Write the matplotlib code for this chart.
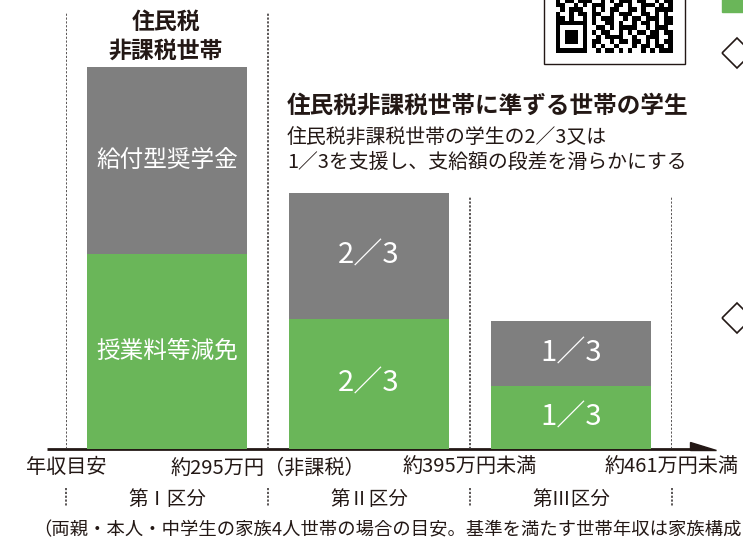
import numpy as np
import matplotlib.pyplot as plt
from matplotlib.patches import Polygon, Rectangle

plt.rcParams['font.family'] = ['Noto Sans CJK JP', 'DejaVu Sans']

# data (1.0 = full support of the first bracket)
categories = ['第Ⅰ区分', '第Ⅱ区分', '第Ⅲ区分']
income_labels = ['年収目安', '約295万円（非課税）', '約395万円未満', '約461万円未満']
tuition = [1.0, 0.667, 0.323]        # 授業料等減免
scholarship = [0.96, 0.646, 0.333]   # 給付型奨学金
tuition_text = ['授業料等減免', '2／3', '1／3']
scholarship_text = ['給付型奨学金', '2／3', '1／3']

green = '#6ab659'
gray = '#7f7f7f'
dark = '#231815'

W, H = 743, 544
fig = plt.figure(figsize=(W / 100, H / 100), dpi=100)

# overlay in pixel coords for the decorations
ov = fig.add_axes([0, 0, 1, 1])
ov.axis('off')

# bar axes
x0, x1, ybase, ytop, unit = 66, 672, 449, 10, 195
ax = fig.add_axes([x0 / W, (H - ybase) / H, (x1 - x0) / W, (ybase - ytop) / H])
ax.set_xlim(-0.5, 2.5)
ax.set_ylim(0, (ybase - ytop) / unit)
ax.patch.set_alpha(0)
for s in ax.spines.values():
    s.set_visible(False)

x = np.arange(len(categories))
bw = 0.79
ax.bar(x, tuition, width=bw, color=green)
ax.bar(x, scholarship, width=bw, bottom=tuition, color=gray)

for i in x:
    fs = 17 if i == 0 else 21
    ax.text(i, tuition[i] / 2, tuition_text[i], color='white', fontsize=fs,
            ha='center', va='center')
    ax.text(i, tuition[i] + scholarship[i] / 2, scholarship_text[i], color='white',
            fontsize=fs, ha='center', va='center')

bounds = np.append(x - 0.5, x[-1] + 0.5)
dot = (0, (1.3, 1.0))
ax.vlines(bounds[:2], 0, 2.236, colors='#3e3a39', lw=1.2, linestyles=[dot])
ax.vlines(bounds[2:], 0, 1.30, colors='#3e3a39', lw=1.2, linestyles=[dot])
ax.vlines(bounds, -0.2, -0.297, colors='#3e3a39', lw=1.2, linestyles=[dot], clip_on=False)

ax.set_yticks([])
ax.set_xticks(bounds, income_labels)
ax.set_xticks(x, categories, minor=True)
ax.tick_params(axis='x', which='major', length=0, pad=6, labelsize=14.5, labelcolor=dark)
ax.tick_params(axis='x', which='minor', length=0, pad=29, labelsize=14, labelcolor=dark)

# axis line with half arrow
ov.plot([47, 692], [449, 449], color=dark, lw=2, solid_capstyle='butt')
ov.add_patch(Polygon([(690, 441.5), (690, 450), (716, 450)], closed=True, color=dark))

# headings
ov.text(166, 22, '住民税', fontsize=16.5, fontweight='bold', color=dark, ha='center', va='center')
ov.text(166, 51, '非課税世帯', fontsize=16.5, fontweight='bold', color=dark, ha='center', va='center')
ov.text(287, 106, '住民税非課税世帯に準ずる世帯の学生', fontsize=17, fontweight='bold',
        color=dark, ha='left', va='center')
ov.text(287, 138, '住民税非課税世帯の学生の2／3又は', fontsize=14.3, color=dark, ha='left', va='center')
ov.text(287, 162, '1／3を支援し、支給額の段差を滑らかにする', fontsize=14.3, color=dark,
        ha='left', va='center')
ov.text(33, 530, '（両親・本人・中学生の家族4人世帯の場合の目安。基準を満たす世帯年収は家族構成',
        fontsize=13.2, color=dark, ha='left', va='center')

# QR code box (decorative)
qr_rows = [
    "#.##.###..#.#.###.##..#.##",
    "##..#.#.###..##.#..###.#.#",
    ".#.###..#.#.##..##.#..####",
    "#..#.##.##..#.###..##.#.#.",
    "##.#..#.#.###..#.##.###.##",
    "#######.#..##.#..#.##.#.##",
    "#.....#..##.#.####..#.###.",
    "#.###.#.#.##..#.#.##.##.##",
    "#.###.#..#.####..#..###..#",
    "#.###.#.##..#.##.##.#.#.##",
    "#.....#.#.#..#...#.##.##.#",
    "#######..#.##.#.#..#.#.###",
]
qr = np.array([[1 if c == '#' else 0 for c in r.ljust(26, '.')[:26]] for r in qr_rows])
ov.add_patch(Rectangle((544, -5), 141, 69, facecolor='white', edgecolor=dark, lw=1, zorder=1))
ov.imshow(qr, cmap='gray_r', extent=(556, 673, 53, -2), interpolation='nearest',
          aspect='auto', zorder=2)

# right edge pieces
ov.add_patch(Rectangle((722, -1), 25, 13, color=green))
for cy in (53, 318):
    ov.add_patch(Polygon([(722, cy), (737, cy - 15), (752, cy), (737, cy + 15)],
                         closed=True, fill=False, edgecolor=dark, lw=1.2))

ov.set_xlim(0, W)
ov.set_ylim(H, 0)

fig.savefig('out.png', dpi=100)
